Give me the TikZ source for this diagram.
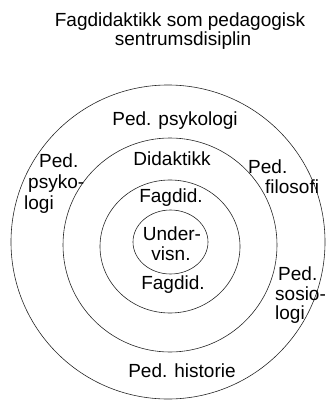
\documentclass[tikz,border=0pt]{standalone}
\usepackage{fontspec}
\setmainfont{Liberation Sans}
\usetikzlibrary{positioning,shapes.geometric}

\begin{document}
\begin{tikzpicture}[x=1pt,y=-1pt,
  ring/.style={ellipse,draw=black!85,line width=0.6pt,inner sep=0pt},
  lbl/.style={inner sep=0pt,anchor=base,font=\fontsize{19}{21}\selectfont},
  lbll/.style={lbl,anchor=base west}]
  \useasboundingbox (0,0) rectangle (325,401);
  % title
  \node[lbl] (tit1) at (180,27) {Fagdidaktikk som pedagogisk};
  \node[lbl] (tit2) at (183,46) {sentrumsdisiplin};
  % rings
  \node[ring,minimum width=314pt,minimum height=314pt] (pedring) at (168,242) {};
  \node[ring,minimum width=214pt,minimum height=214pt] (didring) at (170,245) {};
  \node[ring,minimum width=140pt,minimum height=133pt] (fagring) at (170,246.5) {};
  \node[ring,minimum width=75pt,minimum height=64pt] (undring) at (170.5,242) {};
  % labels in the rings
  \node[lbl] (pedpsy) at (175,125) {Ped. psykologi};
  \node[lbl] (didakt) at (172,165) {Didaktikk};
  \node[lbl] (fagtop) at (171,202) {Fagdid.};
  \node[lbl] (under1) at (172,240) {Under-};
  \node[lbl] (under2) at (171,260) {visn.};
  \node[lbl] (fagbot) at (173,289) {Fagdid.};
  \node[lbl] (pedhis) at (182,377) {Ped. historie};
  % side labels
  \node[lbll] (lpsy1) at (39,167) {Ped.};
  \node[lbll] (lpsy2) at (28,188) {psyko-};
  \node[lbll] (lpsy3) at (24,209) {logi};
  \node[lbll] (fil1) at (248,173) {Ped.};
  \node[lbll] (fil2) at (265,193) {filosofi};
  \node[lbll] (sos1) at (278,280) {Ped.};
  \node[lbll] (sos2) at (275,300) {sosio-};
  \node[lbll] (sos3) at (275,319) {logi};
\end{tikzpicture}
\end{document}
